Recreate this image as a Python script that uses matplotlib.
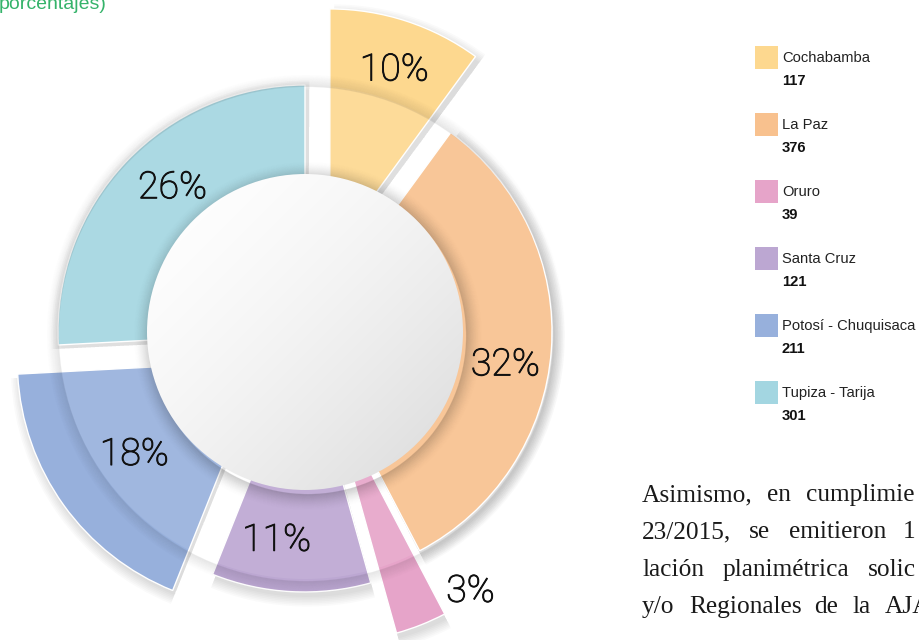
import numpy as np
import matplotlib.pyplot as plt
import matplotlib.patheffects as pe
from matplotlib.patches import Wedge, Circle, Rectangle

# data
regions = ["Cochabamba", "La Paz", "Oruro", "Santa Cruz",
           "Potosí - Chuquisaca", "Tupiza - Tarija"]
counts = [117, 376, 39, 121, 211, 301]
pct_labels = ["10%", "32%", "3%", "11%", "18%", "26%"]
colors = ["#FDD88F", "#F8C18E", "#E6A4C9", "#BCA7D2", "#97B0DC", "#A3D6E1"]

# style: how far each wedge is pulled out, where its label sits
explode = [80, 0, 68, 13, 50, 0]
label_r = [197, 203, 241, 197, 160, 196]
label_dphi = [1, 5, -14, 5, 0, 4]

# page text next to the chart (cut off by the crop)
body_lines = [
    [(642, "Asimismo,"), (767, "en"), (806, "cumplimie")],
    [(642, "23/2015,"), (749, "se"), (789, "emitieron"), (903, "1")],
    [(642, "lación"), (723, "planimétrica"), (868, "solic")],
    [(642, "y/o"), (689, "Regionales"), (814, "de"), (852, "la"), (885, "AJA")],
]

cx, cy = 305, 332
R = 247
R_IN = 158

fig = plt.figure(figsize=(9.19, 6.40), dpi=100)
ax = fig.add_axes([0, 0, 1, 1])
ax.set_xlim(0, 919)
ax.set_ylim(640, 0)
ax.axis("off")

total = sum(counts)
bounds = np.concatenate([[0], np.cumsum(counts)]) / total * 360


def vis_dir(phi):
    a = np.radians(phi)
    return np.sin(a), -np.cos(a)


centers = []
for i in range(len(counts)):
    mid = (bounds[i] + bounds[i + 1]) / 2
    ux, uy = vis_dir(mid)
    centers.append((cx + explode[i] * ux, cy + explode[i] * uy))

# soft drop shadows
for i in range(len(counts)):
    x0, y0 = centers[i]
    for k in range(7):
        ax.add_patch(Wedge((x0 + 3, y0 + 5), R + k * 1.6,
                           bounds[i] - 90 + 0.3, bounds[i + 1] - 90 + 0.3,
                           facecolor="black", alpha=0.018, lw=0))

# wedges
for i in range(len(counts)):
    ax.add_patch(Wedge(centers[i], R, bounds[i] - 90, bounds[i + 1] - 90,
                       facecolor=colors[i], edgecolor="white", lw=1.0))

# glass ring
ax.add_patch(Wedge((cx, cy), R, 0, 360, width=R - R_IN,
                   facecolor="white", alpha=0.09, lw=0))
for k in range(12):
    ax.add_patch(Wedge((cx + 1, cy + 2), R + k + 1.2, 0, 360, width=1.2,
                       facecolor="black", alpha=0.08 * (1 - k / 12), lw=0))

# inner circle shadow
for k in range(16):
    ax.add_patch(Wedge((cx + 3, cy + 4), R_IN + k + 1.2, 0, 360, width=1.2,
                       facecolor="black", alpha=0.16 * (1 - k / 16) ** 1.5, lw=0))

# inner circle with gradient
n = 300
gx, gy = np.meshgrid(np.linspace(0, 1, n), np.linspace(0, 1, n))
t = np.clip((gx + gy) / 2, 0, 1)
shade = 1 - 0.15 * t ** 1.6
img = np.dstack([shade, shade, shade])
im = ax.imshow(img, extent=(cx - R_IN, cx + R_IN, cy + R_IN, cy - R_IN),
               zorder=3, interpolation="bilinear")
clip = Circle((cx, cy), R_IN, transform=ax.transData)
im.set_clip_path(clip)
ax.set_xlim(0, 919)
ax.set_ylim(640, 0)

# percentage labels
for i in range(len(counts)):
    mid = (bounds[i] + bounds[i + 1]) / 2 + label_dphi[i]
    ux, uy = vis_dir(mid)
    x0, y0 = centers[i]
    ax.text(x0 + label_r[i] * ux, y0 + label_r[i] * uy, pct_labels[i],
            ha="center", va="center", fontsize=27, family="Roboto",
            fontweight="light", color="#111111", zorder=5,
            path_effects=[pe.withStroke(linewidth=0.7, foreground="#111111")])

# legend
for i, name in enumerate(regions):
    top = 46 + 67 * i
    ax.add_patch(Rectangle((755, top), 23, 23, facecolor=colors[i], lw=0))
    ax.text(782, top + 12, name, ha="left", va="center", fontsize=10.6,
            family="Liberation Sans", color="#222222")
    ax.text(782, top + 35, str(counts[i]), ha="left", va="center",
            fontsize=10.6, family="Liberation Sans", fontweight="bold",
            color="#111111")

# caption fragment
ax.text(-1, 9, "porcentajes)", ha="left", va="baseline", fontsize=14,
        family="Liberation Sans", color="#35B36A")

# body text fragment
for j, line in enumerate(body_lines):
    base = 501 + 37.3 * j
    for x, word in line:
        ax.text(x, base, word, ha="left", va="baseline", fontsize=18.3,
                family="Liberation Serif", color="#1a1a1a")

fig.savefig("out.png", dpi=100)
